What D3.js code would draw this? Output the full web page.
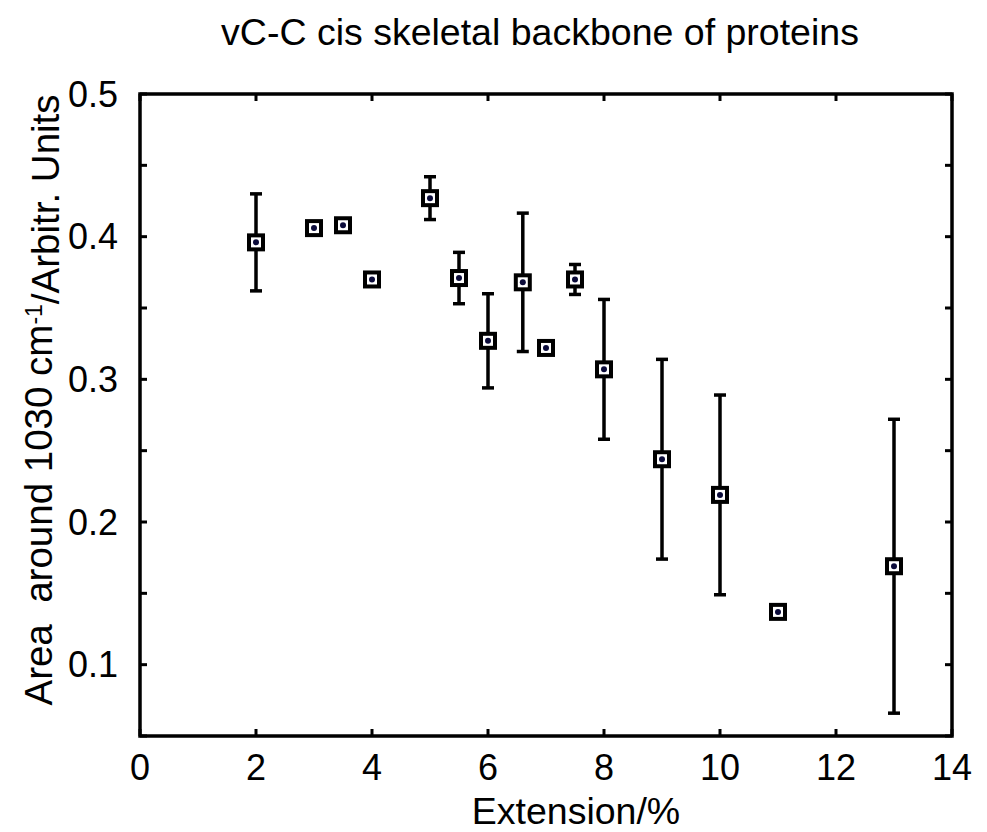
<!DOCTYPE html>
<html>
<head>
<meta charset="utf-8">
<script src="https://cdn.jsdelivr.net/npm/d3@7"></script>
<style>
  html, body { margin: 0; padding: 0; background: #fff; }
  svg { display: block; }
  text { font-family: "Liberation Sans", Arial, Helvetica, sans-serif; fill: #000; }
</style>
</head>
<body>
<svg id="chart" width="987" height="832"></svg>
<script>
// Extension (%) of each sample
const extension = [2, 3, 3.5, 4, 5, 5.5, 6, 6.6, 7, 7.5, 8, 9, 10, 11, 13];
// Integrated band area around 1030 cm-1 (arbitrary units)
const area = [0.396, 0.406, 0.408, 0.370, 0.427, 0.371, 0.327, 0.368, 0.322, 0.370, 0.307, 0.244, 0.219, 0.137, 0.169];
// Standard deviation for each point
const areaErr = [0.034, 0.004, 0.003, 0.002, 0.015, 0.018, 0.033, 0.0485, 0.004, 0.0105, 0.049, 0.070, 0.070, 0.003, 0.103];

const xTicks = [0, 2, 4, 6, 8, 10, 12, 14];
const yTicks = [0.05, 0.1, 0.15, 0.2, 0.25, 0.3, 0.35, 0.4, 0.45, 0.5];
const yTickLabels = [0.1, 0.2, 0.3, 0.4, 0.5];

const titleText = "vC-C cis skeletal backbone of proteins";
const xLabelText = "Extension/%";

const svg = d3.select("#chart");
const plotL = 140, plotR = 952, plotT = 94, plotB = 736;

const x = d3.scaleLinear().domain([0, 14]).range([plotL, plotR]);
const y = d3.scaleLinear().domain([0.05, 0.5]).range([plotB, plotT]);

const tickLen = 7;
const axisW = 3.5;

// Frame
svg.append("rect")
  .attr("x", plotL).attr("y", plotT)
  .attr("width", plotR - plotL).attr("height", plotB - plotT)
  .attr("fill", "none").attr("stroke", "#000").attr("stroke-width", axisW);

// Inward ticks on all four sides
const tickG = svg.append("g").attr("stroke", "#000").attr("stroke-width", 3);
xTicks.forEach(t => {
  tickG.append("line").attr("x1", x(t)).attr("x2", x(t)).attr("y1", plotB).attr("y2", plotB - tickLen);
  tickG.append("line").attr("x1", x(t)).attr("x2", x(t)).attr("y1", plotT).attr("y2", plotT + tickLen);
});
yTicks.forEach(t => {
  tickG.append("line").attr("y1", y(t)).attr("y2", y(t)).attr("x1", plotL).attr("x2", plotL + tickLen);
  tickG.append("line").attr("y1", y(t)).attr("y2", y(t)).attr("x1", plotR).attr("x2", plotR - tickLen);
});

// Tick labels
svg.append("g").selectAll("text").data(xTicks).join("text")
  .attr("x", d => x(d)).attr("y", 780)
  .attr("text-anchor", "middle")
  .style("font-size", "36px")
  .text(d => d);

svg.append("g").selectAll("text").data(yTickLabels).join("text")
  .attr("x", 118).attr("y", d => y(d))
  .attr("dy", "0.35em")
  .attr("text-anchor", "end")
  .style("font-size", "36px")
  .text(d => d3.format(".1f")(d));

// Title and axis labels
svg.append("text")
  .attr("x", 540).attr("y", 45)
  .attr("text-anchor", "middle")
  .style("font-size", "37.5px")
  .text(titleText);

svg.append("text")
  .attr("x", 576).attr("y", 824)
  .attr("text-anchor", "middle")
  .style("font-size", "37.5px")
  .text(xLabelText);

const yl = svg.append("text")
  .attr("transform", "translate(52, 400) rotate(-90)")
  .attr("text-anchor", "middle")
  .style("font-size", "38.5px");
yl.append("tspan").text("Area\u00a0 around 1030 cm");
yl.append("tspan").attr("dy", "-0.45em").style("font-size", "23px").text("-1");
yl.append("tspan").attr("dy", "0.45em").text("/Arbitr. Units");

// Error bars
const pts = extension.map((e, i) => ({ x: e, y: area[i], err: areaErr[i] }));
const capW = 6;
const eb = svg.append("g").attr("stroke", "#000").attr("stroke-width", 3.5);
pts.forEach(p => {
  eb.append("line").attr("x1", x(p.x)).attr("x2", x(p.x))
    .attr("y1", y(p.y - p.err)).attr("y2", y(p.y + p.err));
  eb.append("line").attr("x1", x(p.x) - capW).attr("x2", x(p.x) + capW)
    .attr("y1", y(p.y + p.err)).attr("y2", y(p.y + p.err));
  eb.append("line").attr("x1", x(p.x) - capW).attr("x2", x(p.x) + capW)
    .attr("y1", y(p.y - p.err)).attr("y2", y(p.y - p.err));
});

// Square markers with a dark centre dot
const mk = svg.append("g");
const side = 14;
mk.selectAll("rect").data(pts).join("rect")
  .attr("x", d => x(d.x) - side / 2).attr("y", d => y(d.y) - side / 2)
  .attr("width", side).attr("height", side)
  .attr("fill", "#fff").attr("stroke", "#000").attr("stroke-width", 4);
mk.selectAll("circle").data(pts).join("circle")
  .attr("cx", d => x(d.x)).attr("cy", d => y(d.y))
  .attr("r", 3).attr("fill", "#0b0b3a");
</script>
</body>
</html>
